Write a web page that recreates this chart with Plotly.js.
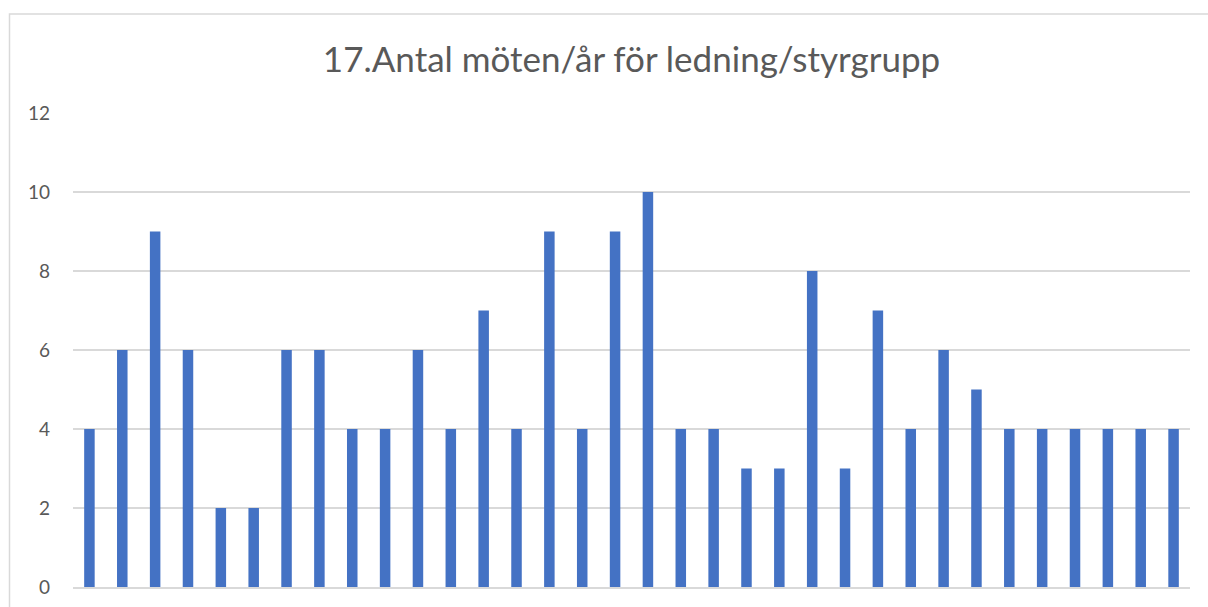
<!DOCTYPE html>
<html>
<head>
<meta charset="utf-8">
<script src="https://cdn.plot.ly/plotly-3.0.1.min.js"></script>
<style>
html,body{margin:0;padding:0;background:#fff;}
#chart{width:1208px;height:607px;}
</style>
</head>
<body>
<div id="chart"></div>
<script>
var categories = [];
for (var i = 1; i <= 34; i++) categories.push(String(i));
var meetings = [4,6,9,6,2,2,6,6,4,4,6,4,7,4,9,4,9,10,4,4,3,3,8,3,7,4,6,5,4,4,4,4,4,4];
var yTicks = [0,2,4,6,8,10,12];
var titleText = "17.Antal möten/år för ledning/styrgrupp";

var trace = {
  type: 'bar',
  x: categories,
  y: meetings,
  marker: {color: '#4472C4', line: {width: 0}},
  hoverinfo: 'y'
};

var layout = {
  width: 1208, height: 607,
  margin: {l: 73, r: 18, t: 113, b: 20, pad: 0},
  paper_bgcolor: '#ffffff', plot_bgcolor: '#ffffff',
  bargap: 0.68,
  showlegend: false,
  font: {family: 'Lato, "Noto Sans", sans-serif', color: '#595959'},
  title: {
    text: titleText,
    font: {family: 'Lato, "Noto Sans", sans-serif', size: 35, color: '#595959'},
    x: 0.5, xref: 'paper', xanchor: 'center',
    y: 1 - 60/607, yref: 'container', yanchor: 'middle'
  },
  xaxis: {
    type: 'category',
    showticklabels: false, ticks: '',
    showgrid: false, zeroline: false,
    showline: true, linecolor: '#D9D9D9', linewidth: 1.5
  },
  yaxis: {
    range: [0, 12],
    tickvals: yTicks,
    ticktext: yTicks.map(String),
    showgrid: true, gridcolor: '#D9D9D9', gridwidth: 1.3,
    zeroline: false, showline: false, ticks: '',
    ticklabelstandoff: 22,
    tickfont: {size: 19, color: '#595959', family: 'Lato, "Noto Sans", sans-serif'},
    fixedrange: true
  },
  shapes: [{
    type: 'path', xref: 'paper', yref: 'paper',
    path: 'M ' + ((9.5-73)/1117) + ' ' + (-0.2) + ' L ' + ((9.5-73)/1117) + ' ' + ((587-14)/474) + ' L ' + ((1215-73)/1117) + ' ' + ((587-14)/474),
    line: {color: '#D9D9D9', width: 1.5}
  }]
};

Plotly.newPlot('chart', [trace], layout, {displayModeBar: false, staticPlot: true});
</script>
</body>
</html>
